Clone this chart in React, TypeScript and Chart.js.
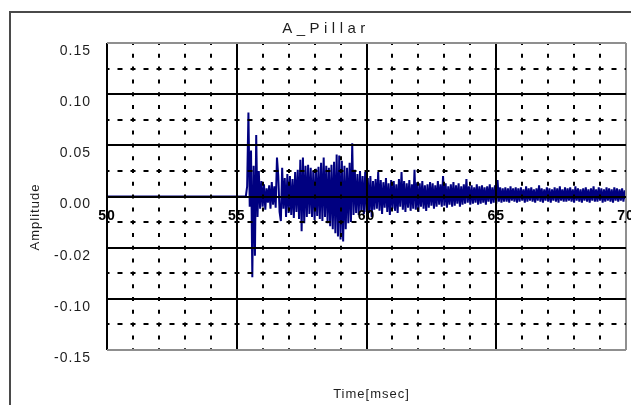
import React, { useEffect, useRef } from 'react';
import { Chart, registerables } from 'chart.js';

Chart.register(...registerables);

// ---- texts ----
const chartTitle = 'A_Pillar';
const xAxisTitle = 'Time[msec]';
const yAxisTitle = 'Amplitude';

// ---- axes ----
const xMin = 50;
const xMax = 70;
const xMajorStep = 5;
const xMinorStep = 1;
const xTickValues = [50, 55, 60, 65, 70];
const xTickLabels = ['50', '55', '60', '65', '70'];

const yMin = -0.15;
const yMax = 0.15;
const yMajorStep = 0.05;
const yMinorStep = 0.025;
const yTickValues = [0.15, 0.1, 0.05, 0, -0.05, -0.1, -0.15];
const yTickLabels = ['0.15', '0.10', '0.05', '0.00', '-0.02', '-0.10', '-0.15'];

// ---- signal ----
const traceStart = 50; // trace is flat (0) from here until the first sample
const sampleStart = 55.35; // msec
const sampleStep = 0.05; // msec
const amplitude = [
  0, 0.01, 0.082, -0.01, 0.045, -0.079, 0.03, -0.058, 0.06, -0.02,
  0.025, -0.012, 0.015, -0.01, 0.012, -0.013, 0.008, -0.006, 0.011, -0.012,
  0.014, -0.008, 0.01, -0.011, 0.038, 0.02, -0.015, -0.024, 0.028, -0.012,
  0.018, -0.02, 0.022, -0.016, 0.02, -0.018, 0.017, -0.021, 0.024, -0.015,
  0.026, -0.022, 0.036, -0.034, 0.038, -0.026, 0.03, -0.02, 0.031, -0.017,
  0.028, -0.02, 0.025, -0.023, 0.027, -0.019, 0.029, -0.022, 0.033, -0.024,
  0.038, -0.02, 0.03, -0.026, 0.028, -0.029, 0.031, -0.032, 0.034, -0.036,
  0.041, -0.039, 0.04, -0.042, 0.035, -0.044, 0.03, -0.032, 0.028, -0.026,
  0.033, -0.025, 0.052, -0.018, 0.026, -0.016, 0.022, -0.018, 0.025, -0.014,
  0.02, -0.017, 0.024, -0.015, 0.018, -0.016, 0.02, -0.02, 0.015, -0.013,
  0.017, -0.012, 0.024, -0.014, 0.016, -0.017, 0.014, -0.011, 0.018, -0.015,
  0.013, -0.018, 0.016, -0.012, 0.015, -0.014, 0.012, -0.016, 0.017, -0.01,
  0.024, -0.013, 0.015, -0.015, 0.013, -0.011, 0.016, -0.014, 0.012, -0.012,
  0.026, -0.013, 0.014, -0.015, 0.013, -0.01, 0.015, -0.012, 0.011, -0.014,
  0.012, -0.011, 0.014, -0.009, 0.013, -0.012, 0.011, -0.01, 0.015, -0.008,
  0.012, -0.01, 0.02, -0.009, 0.013, -0.011, 0.01, -0.008, 0.012, -0.01,
  0.014, -0.009, 0.011, -0.007, 0.013, -0.01, 0.01, -0.008, 0.012, -0.007,
  0.017, -0.006, 0.01, -0.008, 0.011, -0.007, 0.009, -0.006, 0.012, -0.008,
  0.01, -0.007, 0.011, -0.006, 0.009, -0.008, 0.01, -0.005, 0.012, -0.007,
  0.009, -0.006, 0.011, -0.007, 0.016, -0.005, 0.009, -0.006, 0.008, -0.005,
  0.009, -0.005, 0.008, -0.006, 0.01, -0.004, 0.008, -0.005, 0.009, -0.006,
  0.008, -0.005, 0.009, -0.004, 0.007, -0.006, 0.01, -0.005, 0.008, -0.004,
  0.009, -0.005, 0.007, -0.006, 0.008, -0.004, 0.011, -0.005, 0.008, -0.006,
  0.007, -0.004, 0.009, -0.005, 0.008, -0.006, 0.007, -0.004, 0.009, -0.005,
  0.008, -0.006, 0.01, -0.004, 0.007, -0.005, 0.009, -0.005, 0.008, -0.004,
  0.009, -0.005, 0.007, -0.006, 0.01, -0.004, 0.008, -0.005, 0.007, -0.006,
  0.008, -0.004, 0.009, -0.005, 0.007, -0.006, 0.008, -0.004, 0.01, -0.005,
  0.007, -0.005, 0.009, -0.004, 0.008, -0.006, 0.007, -0.005, 0.009, -0.004,
  0.008, -0.005, 0.007, -0.006, 0.009, -0.004, 0.008, -0.005, 0.007, -0.004,
  0.008, -0.005, 0.006, -0.003,
];

const FONT = '"Liberation Sans", Arial, sans-serif';
const EDGE = '#8f8f8f';
const INK = '#1e1e1e';
const TRACE = '#000080';

const near = (a: number, b: number) => Math.abs(a - b) < 1e-9;
const isMultiple = (v: number, step: number) => near(Math.round(v / step) * step, v);

const noOverhang = (s: any) => {
  s.paddingLeft = 0;
  s.paddingRight = 0;
  s.paddingTop = 0;
  s.paddingBottom = 0;
};

const textPlugin = {
  id: 'textPlugin',
  beforeDraw(chart: any) {
    chart.ctx.letterSpacing = '1px';
  },
  afterDraw(chart: any) {
    const { ctx, chartArea } = chart;
    ctx.save();
    ctx.fillStyle = INK;
    ctx.textAlign = 'center';
    ctx.textBaseline = 'alphabetic';
    ctx.font = `15px ${FONT}`;
    ctx.letterSpacing = '4.5px';
    ctx.fillText(chartTitle, 326, 33);
    ctx.font = `13px ${FONT}`;
    ctx.letterSpacing = '1px';
    ctx.fillText(xAxisTitle, (chartArea.left + chartArea.right) / 2 + 5, 398);
    ctx.translate(39, 217);
    ctx.rotate(-Math.PI / 2);
    ctx.fillText(yAxisTitle, 0, 0);
    ctx.restore();
  },
};

export default function App() {
  const ref = useRef<HTMLCanvasElement>(null);

  useEffect(() => {
    const data = [{ x: traceStart, y: 0 }].concat(
      amplitude.map((v, i) => ({ x: sampleStart + i * sampleStep, y: v }))
    );

    const chart = new Chart(ref.current as HTMLCanvasElement, {
      type: 'line',
      data: {
        datasets: [
          {
            data,
            xAxisID: 'x',
            yAxisID: 'y',
            borderColor: TRACE,
            borderWidth: 2,
            borderJoinStyle: 'bevel',
            pointRadius: 0,
            fill: false,
            tension: 0,
          },
        ],
      },
      options: {
        animation: false,
        responsive: false,
        devicePixelRatio: 1,
        events: [],
        layout: { padding: { left: 24, top: 43, right: 5, bottom: 55 } },
        plugins: { legend: { display: false }, tooltip: { enabled: false }, title: { display: false } },
        scales: {
          x: {
            type: 'linear',
            axis: 'x',
            min: xMin,
            max: xMax,
            position: { y: 0 },
            afterFit: (s: any) => { s.height = 0; noOverhang(s); },
            ticks: {
              stepSize: xMajorStep,
              autoSkip: false,
              maxRotation: 0,
              padding: 11,
              color: '#000',
              font: { family: FONT, size: 14, weight: 'bold' },
              z: 2,
              callback: (v: any) => {
                const i = xTickValues.findIndex((t) => near(t, Number(v)));
                return i >= 0 ? xTickLabels[i] : '';
              },
            },
            grid: {
              color: (c: any) => (c.tick && near(c.tick.value, xMax) ? EDGE : '#000'),
              lineWidth: 2,
              drawTicks: false,
              z: 1,
            },
            border: { display: false },
          },
          xMinor: {
            type: 'linear',
            axis: 'x',
            min: xMin,
            max: xMax,
            position: 'bottom',
            afterFit: (s: any) => { s.height = 0; noOverhang(s); },
            ticks: { display: false, stepSize: xMinorStep, autoSkip: false },
            grid: {
              color: (c: any) => (c.tick && isMultiple(c.tick.value, xMajorStep) ? 'rgba(0,0,0,0)' : '#000'),
              lineWidth: 2,
              drawTicks: false,
              z: 1,
            },
            border: { display: false, dash: [4, 8.8], dashOffset: 2 },
          },
          y: {
            type: 'linear',
            axis: 'y',
            min: yMin,
            max: yMax,
            position: 'left',
            afterFit: (s: any) => { s.width = 83; noOverhang(s); },
            ticks: {
              stepSize: yMajorStep,
              autoSkip: false,
              padding: 16,
              labelOffset: 8,
              color: INK,
              font: { family: FONT, size: 14 },
              z: 1,
              callback: (v: any) => {
                const i = yTickValues.findIndex((t) => near(t, Number(v)));
                return i >= 0 ? yTickLabels[i] : '';
              },
            },
            grid: {
              color: (c: any) =>
                c.tick && (near(c.tick.value, yMax) || near(c.tick.value, yMin)) ? EDGE : '#000',
              lineWidth: 2,
              drawTicks: false,
              z: 1,
            },
            border: { display: false },
          },
          yMinor: {
            type: 'linear',
            axis: 'y',
            min: yMin,
            max: yMax,
            position: 'left',
            afterFit: (s: any) => { s.width = 0; noOverhang(s); },
            ticks: { display: false, stepSize: yMinorStep, autoSkip: false },
            grid: {
              color: (c: any) => (c.tick && isMultiple(c.tick.value, yMajorStep) ? 'rgba(0,0,0,0)' : '#000'),
              lineWidth: 2,
              drawTicks: false,
              z: 1,
            },
            border: { display: false, dash: [5, 8], dashOffset: 2.5 },
          },
        },
      } as any,
      plugins: [textPlugin],
    });
    return () => chart.destroy();
  }, []);

  return (
    <div
      style={{
        position: 'fixed',
        left: 0,
        top: 0,
        width: 631,
        height: 405,
        overflow: 'hidden',
        background: '#fff',
      }}
    >
      <div
        style={{
          position: 'absolute',
          left: 9,
          top: 11,
          width: 700,
          height: 500,
          borderLeft: '2px solid #4a4a4a',
          borderTop: '2px solid #4a4a4a',
        }}
      />
      <canvas
        ref={ref}
        width={631}
        height={405}
        style={{ position: 'absolute', left: 0, top: 0, width: 631, height: 405 }}
      />
    </div>
  );
}
